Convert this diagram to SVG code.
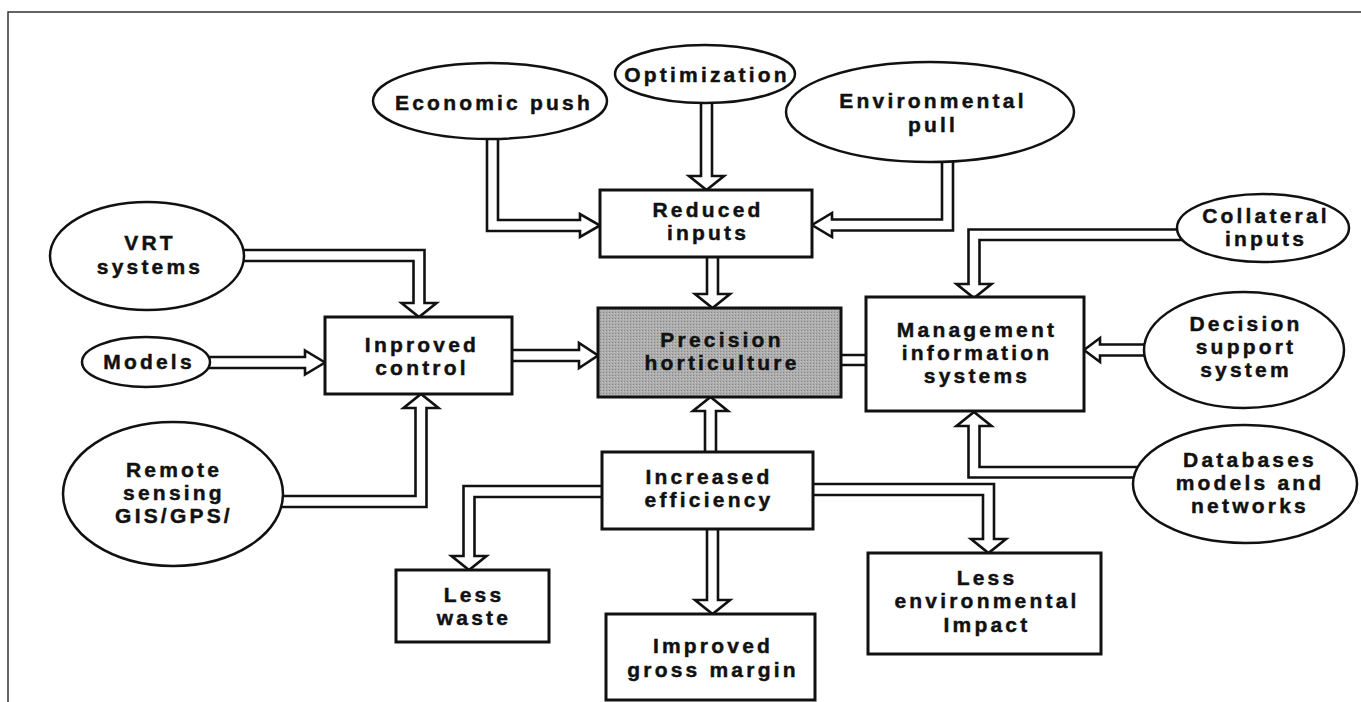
<svg xmlns="http://www.w3.org/2000/svg" width="1361" height="702" viewBox="0 0 1361 702">
<defs>
<pattern id="stip" width="3" height="3" patternUnits="userSpaceOnUse">
<rect width="3" height="3" fill="#adadad"/>
<rect x="0" y="0" width="1" height="1" fill="#858585"/>
<rect x="2" y="1" width="1" height="1" fill="#c4c4c4"/>
</pattern>
<style>
.box{fill:#fff;stroke:#111;stroke-width:3}
.ell{fill:#fff;stroke:#111;stroke-width:2.5}
.arr{fill:#fff;stroke:#111;stroke-width:2.6;stroke-linejoin:miter}
.ln{fill:none;stroke:#111;stroke-width:2.6}
.t{font-family:"Liberation Sans",Arial,sans-serif;font-weight:bold;font-size:21px;letter-spacing:3.2px;text-anchor:middle;fill:#111;stroke:#111;stroke-width:0.45}
.frame{fill:none;stroke:#333;stroke-width:1.5}
</style>
</defs>
<rect width="1361" height="702" fill="#fff"/>
<path class="frame" d="M8,702 L8,12 L1361,12"/>

<g id="connectors">
<path class="arr" d="M487,132 L487,231 L580,231 L580,237 L600,225.5 L580,214 L580,220 L498,220 L498,132"/>
<path class="arr" d="M701,98 L701,176 L689,176 L706.5,190 L724,176 L712,176 L712,98"/>
<path class="arr" d="M953,155 L953,230.5 L832,230.5 L832,237 L812,225 L832,213 L832,219.5 L942,219.5 L942,155"/>
<path class="arr" d="M707,250 L707,294 L695,294 L712.5,308 L730,294 L718,294 L718,250"/>
<path class="arr" d="M238,250 L424.5,250 L424.5,303 L436.5,303 L419,317 L401.5,303 L413.5,303 L413.5,261 L238,261"/>
<path class="arr" d="M204,357 L305,357 L305,350.5 L325,362.5 L305,374.5 L305,368 L204,368"/>
<path class="arr" d="M277,507 L426.5,507 L426.5,408 L438.5,408 L421,394 L403.5,408 L415.5,408 L415.5,496 L277,496"/>
<path class="arr" d="M505,350 L579,350 L579,343 L598,355.5 L579,368 L579,361 L505,361"/>
<path class="ln" d="M841,355 L866,355 M841,365 L866,365"/>
<path class="arr" d="M1183,229.5 L968.5,229.5 L968.5,284 L956.5,284 L974,298 L991.5,284 L979.5,284 L979.5,240 L1183,240"/>
<path class="arr" d="M1150,344.5 L1100,344.5 L1100,338 L1084,350 L1100,362 L1100,355.5 L1150,355.5"/>
<path class="arr" d="M1140,477.5 L968.5,477.5 L968.5,426 L956.5,426 L974,412 L991.5,426 L979.5,426 L979.5,467 L1140,467"/>
<path class="arr" d="M705,460 L705,411 L693,411 L710.5,397 L728,411 L716,411 L716,460"/>
<path class="arr" d="M610,486 L463.5,486 L463.5,556 L451.5,556 L469,570 L486.5,556 L474.5,556 L474.5,497 L610,497"/>
<path class="arr" d="M707,520 L707,600 L695,600 L712.5,614 L730,600 L718,600 L718,520"/>
<path class="arr" d="M805,484 L994,484 L994,539 L1006,539 L988.5,553 L971,539 L983,539 L983,495 L805,495"/>
</g>

<g id="economic-push">
<ellipse class="ell" cx="490" cy="101" rx="117" ry="38"/>
<text class="t" x="494" y="110">Economic push</text>
</g>
<g id="optimization">
<ellipse class="ell" cx="705" cy="74" rx="90" ry="29"/>
<text class="t" x="707" y="82">Optimization</text>
</g>
<g id="environmental-pull">
<ellipse class="ell" cx="930" cy="112" rx="144" ry="50"/>
<text class="t" x="933" y="108">Environmental</text>
<text class="t" x="933" y="132">pull</text>
</g>
<g id="reduced-inputs">
<rect class="box" x="600" y="190" width="212" height="67"/>
<text class="t" x="708" y="217">Reduced</text>
<text class="t" x="708" y="240">inputs</text>
</g>
<g id="vrt-systems">
<ellipse class="ell" cx="147" cy="256" rx="97" ry="54"/>
<text class="t" x="150" y="250">VRT</text>
<text class="t" x="150" y="274">systems</text>
</g>
<g id="models">
<ellipse class="ell" cx="146" cy="362" rx="64" ry="25"/>
<text class="t" x="149" y="369">Models</text>
</g>
<g id="remote-sensing">
<ellipse class="ell" cx="173" cy="494" rx="110" ry="72"/>
<text class="t" x="174" y="477">Remote</text>
<text class="t" x="174" y="500">sensing</text>
<text class="t" x="174" y="523">GIS/GPS/</text>
</g>
<g id="improved-control">
<rect class="box" x="325" y="317" width="187" height="77"/>
<text class="t" x="422" y="352">Inproved</text>
<text class="t" x="422" y="375">control</text>
</g>
<g id="precision-horticulture">
<rect x="598" y="308" width="243" height="89" fill="url(#stip)" stroke="#111" stroke-width="3"/>
<text class="t" x="722" y="347">Precision</text>
<text class="t" x="722" y="370">horticulture</text>
</g>
<g id="management-information-systems">
<rect class="box" x="866" y="297" width="218" height="114"/>
<text class="t" x="977" y="337">Management</text>
<text class="t" x="977" y="360">information</text>
<text class="t" x="977" y="383">systems</text>
</g>
<g id="collateral-inputs">
<ellipse class="ell" cx="1263" cy="228" rx="86" ry="34"/>
<text class="t" x="1266" y="223">Collateral</text>
<text class="t" x="1266" y="246">inputs</text>
</g>
<g id="decision-support-system">
<ellipse class="ell" cx="1244" cy="350" rx="100" ry="58"/>
<text class="t" x="1246" y="331">Decision</text>
<text class="t" x="1246" y="354">support</text>
<text class="t" x="1246" y="377">system</text>
</g>
<g id="databases">
<ellipse class="ell" cx="1245" cy="484" rx="112" ry="59"/>
<text class="t" x="1250" y="467">Databases</text>
<text class="t" x="1250" y="490">models and</text>
<text class="t" x="1250" y="513">networks</text>
</g>
<g id="increased-efficiency">
<rect class="box" x="602" y="452" width="211" height="77"/>
<text class="t" x="709" y="484">Increased</text>
<text class="t" x="709" y="507">efficiency</text>
</g>
<g id="less-waste">
<rect class="box" x="396" y="570" width="153" height="72"/>
<text class="t" x="474" y="602">Less</text>
<text class="t" x="474" y="625">waste</text>
</g>
<g id="improved-gross-margin">
<rect class="box" x="606" y="614" width="209" height="86"/>
<text class="t" x="713" y="653">Improved</text>
<text class="t" x="713" y="677">gross margin</text>
</g>
<g id="less-environmental-impact">
<rect class="box" x="868" y="553" width="233" height="101"/>
<text class="t" x="987" y="585">Less</text>
<text class="t" x="987" y="608">environmental</text>
<text class="t" x="987" y="632">Impact</text>
</g>
</svg>
